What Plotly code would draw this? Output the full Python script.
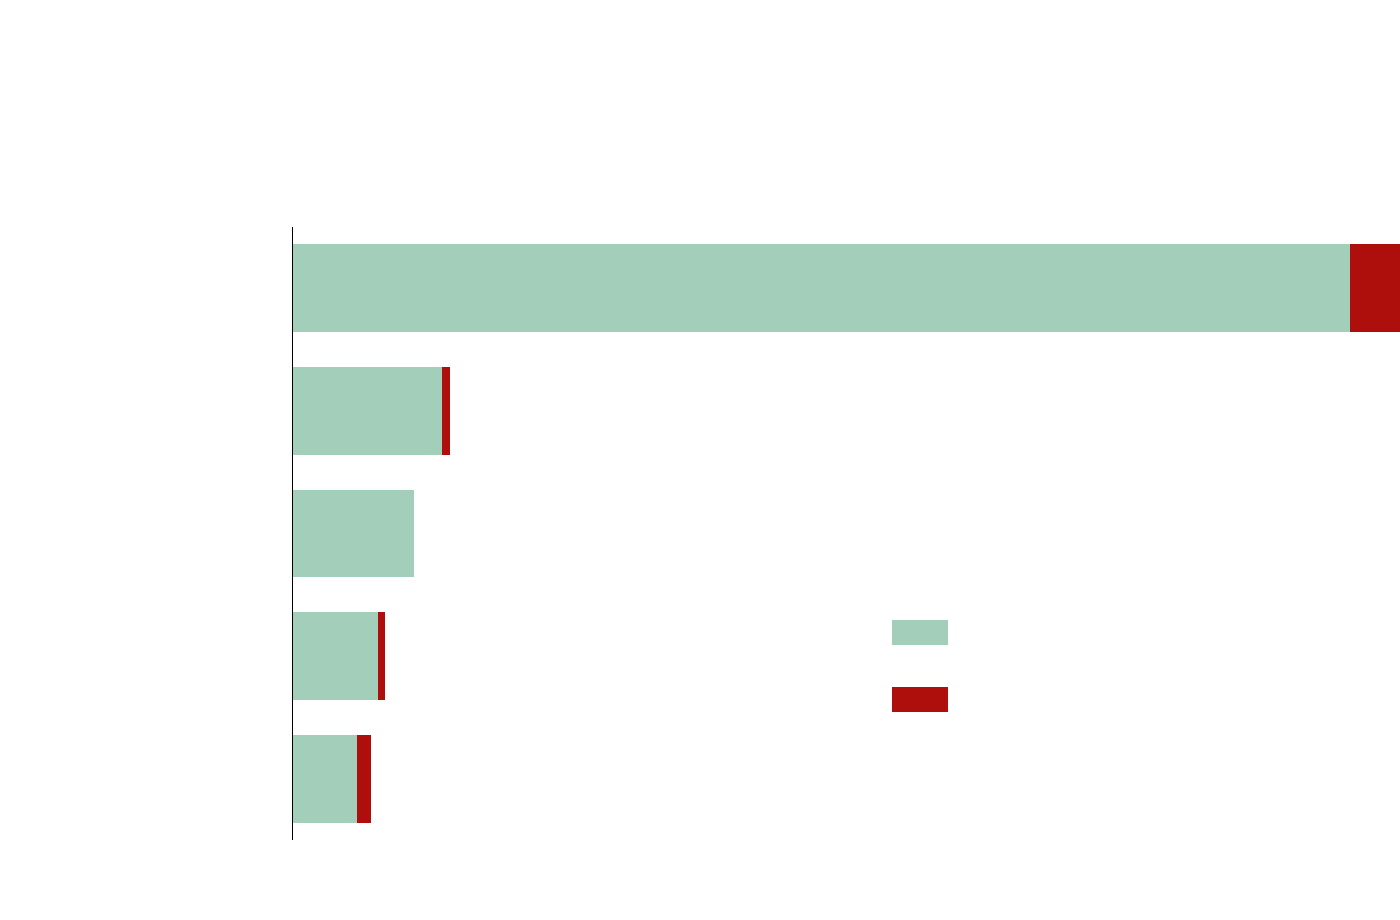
import plotly.graph_objects as go

# Data (unitless; no axis ticks or labels are shown in the reference)
categories = ["c1", "c2", "c3", "c4", "c5"]
green_values = [105.7, 14.9, 12.1, 8.5, 6.4]
red_values = [10.0, 0.8, 0.0, 0.7, 1.4]

GREEN = "#a3cfba"
RED = "#ae0f0d"

fig = go.Figure()
fig.add_trace(go.Bar(y=categories, x=green_values, orientation="h",
                     marker=dict(color=GREEN, line=dict(width=0)),
                     showlegend=False, hoverinfo="skip"))
fig.add_trace(go.Bar(y=categories, x=red_values, orientation="h",
                     marker=dict(color=RED, line=dict(width=0)),
                     showlegend=False, hoverinfo="skip"))

# legend swatches without text (as in the reference)
fig.add_shape(type="rect", xref="paper", yref="paper",
              x0=0.5411, x1=0.5917, y0=0.3181, y1=0.3589,
              fillcolor=GREEN, line=dict(width=0), layer="above")
fig.add_shape(type="rect", xref="paper", yref="paper",
              x0=0.5411, x1=0.5917, y0=0.2088, y1=0.2496,
              fillcolor=RED, line=dict(width=0), layer="above")

fig.update_layout(
    width=1400, height=920,
    margin=dict(l=293, r=0, t=227, b=80, pad=0),
    barmode="stack", bargap=0.283,
    paper_bgcolor="white", plot_bgcolor="white",
    showlegend=False,
)
fig.update_xaxes(range=[0, 110.7], showgrid=False, zeroline=False,
                 showticklabels=False, ticks="", showline=False)
fig.update_yaxes(categoryorder="array", categoryarray=categories,
                 autorange="reversed", showgrid=False, zeroline=False,
                 showticklabels=False, ticks="", showline=True,
                 linecolor="black", linewidth=1)

fig.write_html("out.html", config={"displayModeBar": False},
               post_script="document.body.style.margin='0';document.body.style.overflow='hidden';")
